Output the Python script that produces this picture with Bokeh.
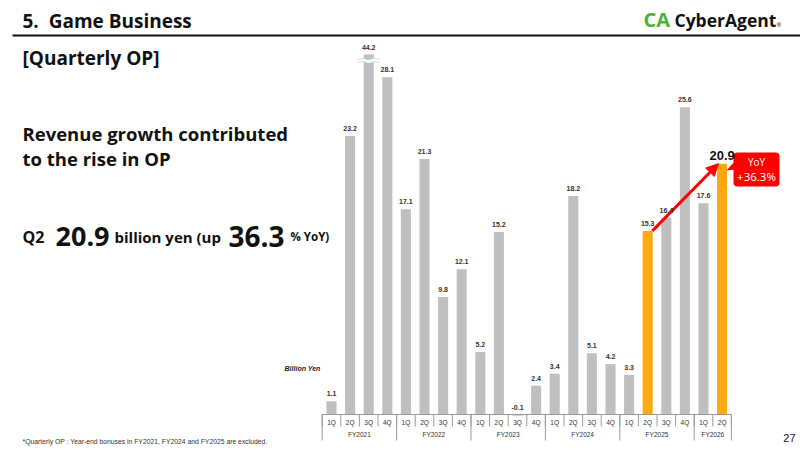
from bokeh.plotting import figure
from bokeh.models import Range1d, Arrow, NormalHead, ColumnDataSource
from bokeh.core.properties import value
from bokeh.embed import file_html
from bokeh.resources import INLINE

# ---------------- data ----------------
fiscal_years = ["FY2021", "FY2022", "FY2023", "FY2024", "FY2025", "FY2026"]
quarters_per_year = [4, 4, 4, 4, 4, 2]
quarter_labels = ["1Q", "2Q", "3Q", "4Q", "1Q", "2Q", "3Q", "4Q", "1Q", "2Q", "3Q", "4Q",
                  "1Q", "2Q", "3Q", "4Q", "1Q", "2Q", "3Q", "4Q", "1Q", "2Q"]
quarterly_op = [1.1, 23.2, 44.2, 28.1, 17.1, 21.3, 9.8, 12.1, 5.2, 15.2, -0.1, 2.4,
                3.4, 18.2, 5.1, 4.2, 3.3, 15.3, 16.4, 25.6, 17.6, 20.9]
highlight = [False] * 17 + [True] + [False] * 3 + [True]
axis_cap = 30.0          # display cap for the broken bar
yoy_from, yoy_to = 17, 21
yoy_text = "+36.3%"

GRAY = "#BFBFBF"
ORANGE = "#FFA812"
FONT = "Open Sans"
NUM_FONT = "Liberation Sans"

n = len(quarterly_op)
p = figure(width=800, height=450, x_range=Range1d(0, 800), y_range=Range1d(450, 0),
           x_axis_type=None, y_axis_type=None, toolbar_location=None,
           output_backend="svg", min_border=0)
p.grid.visible = False
p.outline_line_color = None
p.background_fill_color = "white"
p.border_fill_color = "white"

# chart ranges sharing the frame
px_per_cat = 18.6
x0_px = 321.7
base_px = 414.0
px_per_val = 12.0
p.extra_x_ranges = {"cat": Range1d(-x0_px / px_per_cat, (800 - x0_px) / px_per_cat)}
p.extra_y_ranges = {"val": Range1d((base_px - 450) / px_per_val, base_px / px_per_val)}

xs = [i + 0.5 for i in range(n)]
disp = [min(v, axis_cap) for v in quarterly_op]
colors = [ORANGE if h else GRAY for h in highlight]
src = ColumnDataSource(dict(x=xs, top=disp, color=colors, v=quarterly_op,
                            lab=[f"{v:.1f}" for v in quarterly_op],
                            ly=[max(d, 0) for d in disp]))
p.vbar(x="x", top="top", bottom=0, width=0.54, fill_color="color", line_color=None,
       source=src, x_range_name="cat", y_range_name="val")

# break mark on capped bar
for i, v in enumerate(quarterly_op):
    if v > axis_cap:
        bx = [xs[i] - 0.6, xs[i] - 0.3, xs[i], xs[i] + 0.3, xs[i] + 0.6]
        by = [axis_cap - 0.55, axis_cap - 0.45, axis_cap - 0.6, axis_cap - 0.45, axis_cap - 0.55]
        p.line(bx, by, line_color="#D0D0D0", line_width=4, x_range_name="cat", y_range_name="val")
        p.line(bx, by, line_color="white", line_width=2.4, x_range_name="cat", y_range_name="val")

# YoY arrow (drawn at glyph level so the value labels stay on top)
p.add_layout(Arrow(end=NormalHead(size=12, fill_color="#FF0000", line_color="#FF0000"),
                   x_start=xs[yoy_from] + 0.25, y_start=quarterly_op[yoy_from],
                   x_end=xs[yoy_to] - 0.2, y_end=quarterly_op[yoy_to],
                   line_color="#FF0000", line_width=3, level="glyph",
                   x_range_name="cat", y_range_name="val"))

# value labels (all but last)
lab_src = ColumnDataSource(dict(x=xs[:-1], y=src.data["ly"][:-1], t=src.data["lab"][:-1]))
p.text(x="x", y="y", text="t", source=lab_src, x_range_name="cat", y_range_name="val",
       text_align="center", text_baseline="bottom", y_offset=-5,
       text_font=value(NUM_FONT), text_font_style="bold", text_font_size="7px",
       text_color="#333333", level="overlay")
# last label larger
p.text(x=[xs[-1]], y=[disp[-1]], text=[f"{quarterly_op[-1]:.1f}"], x_range_name="cat",
       y_range_name="val", text_align="center", text_baseline="bottom", y_offset=-4,
       text_font=value(NUM_FONT), text_font_style="bold", text_font_size="13px",
       text_color="#111111", level="overlay")

# category axis (drawn)
p.segment(x0=[0], y0=[base_px], x1=[n], y1=[base_px], line_color="#9A9A9A", line_width=1,
          x_range_name="cat")
p.segment(x0=list(range(n + 1)), y0=[base_px] * (n + 1), x1=list(range(n + 1)),
          y1=[base_px + 12] * (n + 1), line_color="#9A9A9A", line_width=1, x_range_name="cat")
bounds = [0]
for q in quarters_per_year:
    bounds.append(bounds[-1] + q)
p.segment(x0=bounds, y0=[base_px] * len(bounds), x1=bounds, y1=[base_px + 26] * len(bounds),
          line_color="#9A9A9A", line_width=1, x_range_name="cat")
p.text(x=xs, y=[base_px + 7.5] * n, text=quarter_labels, x_range_name="cat",
       text_align="center", text_baseline="middle", text_font=value(NUM_FONT),
       text_font_size="6.5px", text_color="#333333")
centers = [(bounds[k] + bounds[k + 1]) / 2 for k in range(len(fiscal_years))]
p.text(x=centers, y=[base_px + 19.5] * len(centers), text=fiscal_years, x_range_name="cat",
       text_align="center", text_baseline="middle", text_font=value(NUM_FONT),
       text_font_size="6.5px", text_color="#333333")

# unit label
p.text(x=[302], y=[368], text=["Billion Yen"], text_align="center", text_baseline="middle",
       text_font=value(NUM_FONT), text_font_style="bold italic", text_font_size="7px",
       text_color="#222222")

# YoY callout
p.quad(left=[733], right=[779], top=[152], bottom=[186], fill_color="#FF0000",
       line_color=None, border_radius=4)
p.patch([735, 726, 735], [160, 170, 169], fill_color="#FF0000", line_color=None)
p.text(x=[756], y=[161], text=["YoY"], text_align="center", text_baseline="middle",
       text_font=value(FONT), text_font_size="10px", text_color="white")
p.text(x=[756], y=[176], text=[yoy_text], text_align="center", text_baseline="middle",
       text_font=value(FONT), text_font_size="11.5px", text_color="white")

# header
p.text(x=[22], y=[20], text=["5.\u00a0\u00a0Game Business"], text_baseline="middle",
       text_font=value(FONT), text_font_style="bold", text_font_size="19px", text_color="#111111")
p.segment(x0=[12], y0=[35], x1=[800], y1=[35], line_color="#111111", line_width=2)
p.text(x=[643], y=[19], text=["CA"], text_baseline="middle", text_font=value(FONT),
       text_font_style="bold", text_font_size="20px", text_color="#4DB232")
p.text(x=[674], y=[19], text=["CyberAgent"], text_baseline="middle", text_font=value(FONT),
       text_font_style="bold", text_font_size="17.5px", text_color="#111111")
p.text(x=[776], y=[24], text=["®"], text_baseline="middle", text_font=value(FONT),
       text_font_size="6px", text_color="#111111")

# left panel text
p.text(x=[22], y=[57], text=["[Quarterly OP]"], text_baseline="middle", text_font=value(FONT),
       text_font_style="bold", text_font_size="19px", text_color="#111111")
p.text(x=[22, 22], y=[133, 158], text=["Revenue growth contributed", "to the rise in OP"],
       text_baseline="middle", text_font=value(FONT), text_font_style="bold",
       text_font_size="18.5px", text_color="#111111")
yb = 236
p.text(x=[22], y=[yb], text=["Q2"], text_baseline="alphabetic", text_font=value(FONT),
       text_font_style="bold", text_font_size="16px", text_color="#111111")
p.text(x=[55], y=[yb], text=["20.9"], text_baseline="alphabetic", text_font=value(FONT),
       text_font_style="bold", text_font_size="27px", text_color="#111111")
p.text(x=[114], y=[yb], text=["billion yen (up"], text_baseline="alphabetic",
       text_font=value(FONT), text_font_style="bold", text_font_size="15px", text_color="#111111")
p.text(x=[228], y=[yb], text=["36.3"], text_baseline="alphabetic", text_font=value(FONT),
       text_font_style="bold", text_font_size="28px", text_color="#111111")
p.text(x=[290], y=[yb], text=["%\u00a0YoY)"], text_baseline="alphabetic", text_font=value(FONT),
       text_font_style="bold", text_font_size="11.5px", text_color="#111111")

# footnote & page number
p.text(x=[22], y=[441], text=["*Quarterly OP : Year-end bonuses in FY2021, FY2024 and FY2025 are excluded."],
       text_baseline="middle", text_font=value(NUM_FONT), text_font_size="6.8px",
       text_color="#333333")
p.text(x=[795], y=[437], text=["27"], text_align="right", text_baseline="middle",
       text_font=value(NUM_FONT), text_font_size="11px", text_color="#111111")

open("out.html", "w").write(file_html(p, INLINE))
